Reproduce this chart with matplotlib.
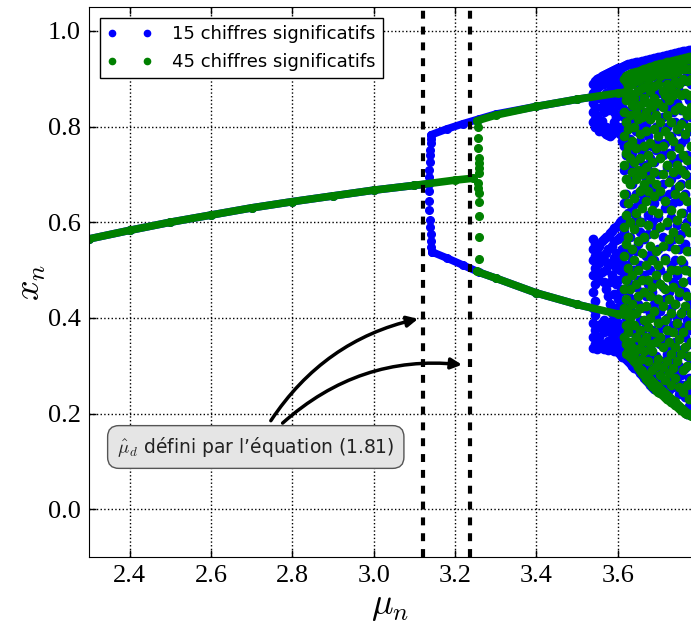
import matplotlib
matplotlib.use('Agg')
import matplotlib.pyplot as plt

# --- data ------------------------------------------------------------------
# fixed-point branch (both precisions overlap)
fixed_mu = [2.30, 2.40, 2.50, 2.60, 2.70, 2.80, 2.90, 3.00, 3.10, 3.20, 3.245]
fixed_x = [0.565, 0.583, 0.600, 0.615, 0.630, 0.643, 0.655, 0.667, 0.677, 0.688, 0.692]
blue_fixed_end = 3.137

# blue (15 digits) jump at ~3.14
blue_jump_mu = [3.136, 3.137, 3.138, 3.138, 3.139, 3.140, 3.141, 3.142,
                3.136, 3.137, 3.137, 3.138, 3.139, 3.140, 3.141, 3.142, 3.143]
blue_jump_x = [0.695, 0.71, 0.725, 0.74, 0.752, 0.765, 0.775, 0.783,
               0.665, 0.645, 0.625, 0.605, 0.59, 0.575, 0.56, 0.548, 0.538]

# blue period-2 branches
blue_up_mu = [3.142, 3.18, 3.22, 3.26, 3.30, 3.40, 3.50, 3.54]
blue_up_x = [0.783, 0.795, 0.806, 0.816, 0.826, 0.842, 0.857, 0.862]
blue_lo_mu = [3.143, 3.18, 3.22, 3.26, 3.30, 3.40, 3.50, 3.54]
blue_lo_x = [0.538, 0.525, 0.510, 0.495, 0.483, 0.452, 0.428, 0.420]

# green (45 digits) jump at ~3.255
green_jump_mu = [3.256, 3.257, 3.257, 3.258, 3.258, 3.258, 3.258, 3.257,
                 3.257, 3.258, 3.258, 3.258, 3.259, 3.259]
green_jump_x = [0.800, 0.777, 0.755, 0.734, 0.723, 0.713, 0.702, 0.681,
                0.671, 0.662, 0.643, 0.614, 0.570, 0.523]

# green period-2 branches
green_up_mu = [3.253, 3.30, 3.40, 3.50, 3.60, 3.625]
green_up_x = [0.812, 0.824, 0.842, 0.857, 0.870, 0.873]
green_lo_mu = [3.253, 3.30, 3.40, 3.50, 3.60, 3.625]
green_lo_x = [0.497, 0.483, 0.452, 0.428, 0.408, 0.404]

# dense edges of the chaotic region
green_top_mu = [3.62, 3.66, 3.70, 3.74, 3.78]
green_top_x = [0.893, 0.905, 0.918, 0.928, 0.940]
green_low_mu = [3.62, 3.66, 3.70, 3.74, 3.78]
green_low_x = [0.325, 0.290, 0.257, 0.226, 0.195]

# chaotic region, one list of x values per mu column
blue_cloud_mu = [3.540, 3.545, 3.550, 3.555, 3.560, 3.565, 3.570, 3.575, 3.580,
                 3.585, 3.590, 3.595, 3.600, 3.605, 3.610,
                 3.615, 3.620, 3.625, 3.630, 3.635, 3.640, 3.645, 3.650, 3.655,
                 3.660, 3.665, 3.670, 3.675, 3.680, 3.685, 3.690, 3.695, 3.700,
                 3.705, 3.710, 3.715, 3.720, 3.725, 3.730, 3.735, 3.740, 3.745,
                 3.750, 3.755, 3.760, 3.765, 3.770, 3.775, 3.780]
blue_cloud_x = [
    [0.89, 0.87, 0.85, 0.83, 0.81, 0.565, 0.545, 0.52, 0.49, 0.455, 0.42, 0.39, 0.36, 0.338],
    [0.895, 0.875, 0.84, 0.815, 0.80, 0.555, 0.53, 0.505, 0.47, 0.435, 0.405, 0.375, 0.345],
    [0.90, 0.88, 0.825, 0.805, 0.545, 0.52, 0.49, 0.38, 0.35, 0.335],
    [0.902, 0.885, 0.86, 0.80, 0.79, 0.55, 0.515, 0.48, 0.385, 0.36, 0.34],
    [0.905, 0.888, 0.84, 0.812, 0.792, 0.56, 0.53, 0.495, 0.39, 0.345],
    [0.908, 0.89, 0.85, 0.83, 0.788, 0.565, 0.52, 0.475, 0.395, 0.37, 0.335],
    [0.91, 0.893, 0.87, 0.845, 0.80, 0.785, 0.57, 0.535, 0.50, 0.46, 0.385, 0.34],
    [0.912, 0.897, 0.86, 0.835, 0.782, 0.572, 0.545, 0.51, 0.445, 0.39, 0.352, 0.332],
    [0.915, 0.90, 0.875, 0.845, 0.795, 0.78, 0.578, 0.515, 0.475, 0.43, 0.37, 0.335],
    [0.917, 0.885, 0.855, 0.80, 0.784, 0.582, 0.55, 0.49, 0.41, 0.385, 0.345],
    [0.918, 0.902, 0.878, 0.83, 0.81, 0.588, 0.56, 0.525, 0.45, 0.40, 0.36, 0.33],
    [0.92, 0.89, 0.865, 0.82, 0.79, 0.59, 0.535, 0.505, 0.47, 0.42, 0.375, 0.34],
    [0.922, 0.905, 0.88, 0.845, 0.80, 0.594, 0.565, 0.52, 0.48, 0.44, 0.39, 0.352, 0.328],
    [0.923, 0.895, 0.86, 0.825, 0.785, 0.60, 0.57, 0.50, 0.455, 0.41, 0.365, 0.325],
    [0.925, 0.908, 0.885, 0.84, 0.80, 0.77, 0.605, 0.545, 0.515, 0.46, 0.425, 0.38, 0.34, 0.318],
    [0.926, 0.89, 0.82, 0.76, 0.71, 0.64, 0.58, 0.49, 0.43, 0.37, 0.33],
    [0.928, 0.905, 0.86, 0.79, 0.74, 0.66, 0.55, 0.51, 0.40, 0.315],
    [0.93, 0.87, 0.80, 0.69, 0.62, 0.535, 0.455, 0.39, 0.35, 0.31],
    [0.931, 0.91, 0.835, 0.775, 0.72, 0.60, 0.57, 0.47, 0.42, 0.305],
    [0.932, 0.895, 0.85, 0.745, 0.68, 0.63, 0.52, 0.44, 0.37, 0.33, 0.30],
    [0.933, 0.915, 0.81, 0.76, 0.705, 0.59, 0.50, 0.41, 0.345, 0.295],
    [0.934, 0.9, 0.865, 0.79, 0.66, 0.61, 0.54, 0.465, 0.38, 0.32],
    [0.935, 0.918, 0.88, 0.825, 0.73, 0.64, 0.555, 0.48, 0.43, 0.36, 0.29],
    [0.936, 0.905, 0.85, 0.77, 0.70, 0.58, 0.51, 0.395, 0.335, 0.285],
    [0.937, 0.92, 0.885, 0.80, 0.745, 0.67, 0.60, 0.455, 0.37, 0.31, 0.28],
    [0.938, 0.91, 0.83, 0.72, 0.65, 0.565, 0.49, 0.42, 0.35, 0.275],
    [0.939, 0.925, 0.87, 0.805, 0.76, 0.69, 0.53, 0.445, 0.385, 0.30, 0.27],
    [0.94, 0.915, 0.895, 0.78, 0.71, 0.615, 0.575, 0.47, 0.36, 0.32, 0.265],
    [0.941, 0.927, 0.85, 0.815, 0.735, 0.66, 0.50, 0.41, 0.34, 0.29, 0.26],
    [0.942, 0.905, 0.87, 0.76, 0.68, 0.60, 0.54, 0.455, 0.375, 0.305, 0.255],
    [0.943, 0.93, 0.885, 0.83, 0.725, 0.64, 0.52, 0.43, 0.355, 0.28, 0.252],
    [0.944, 0.915, 0.80, 0.75, 0.67, 0.585, 0.48, 0.40, 0.32, 0.265],
    [0.945, 0.932, 0.895, 0.845, 0.77, 0.70, 0.61, 0.545, 0.44, 0.37, 0.30, 0.25],
    [0.946, 0.92, 0.87, 0.79, 0.655, 0.50, 0.415, 0.345, 0.285, 0.245],
    [0.947, 0.935, 0.90, 0.82, 0.74, 0.68, 0.57, 0.465, 0.385, 0.31, 0.262],
    [0.948, 0.925, 0.855, 0.765, 0.63, 0.525, 0.44, 0.355, 0.295, 0.24],
    [0.949, 0.937, 0.885, 0.80, 0.715, 0.595, 0.49, 0.40, 0.325, 0.27, 0.236],
    [0.95, 0.915, 0.84, 0.745, 0.66, 0.55, 0.455, 0.37, 0.30, 0.25],
    [0.951, 0.938, 0.90, 0.865, 0.78, 0.69, 0.61, 0.51, 0.42, 0.335, 0.28, 0.228],
    [0.952, 0.925, 0.83, 0.725, 0.64, 0.565, 0.475, 0.385, 0.31, 0.255, 0.225],
    [0.953, 0.94, 0.885, 0.81, 0.76, 0.67, 0.52, 0.43, 0.35, 0.29, 0.222],
    [0.954, 0.93, 0.905, 0.85, 0.70, 0.595, 0.49, 0.40, 0.32, 0.265, 0.218],
    [0.955, 0.942, 0.875, 0.79, 0.735, 0.645, 0.545, 0.445, 0.365, 0.30, 0.24, 0.214],
    [0.956, 0.92, 0.835, 0.765, 0.68, 0.575, 0.47, 0.38, 0.28, 0.21],
    [0.957, 0.943, 0.895, 0.81, 0.71, 0.62, 0.515, 0.415, 0.335, 0.26, 0.207],
    [0.958, 0.93, 0.865, 0.775, 0.66, 0.555, 0.455, 0.36, 0.295, 0.235, 0.204],
    [0.959, 0.945, 0.91, 0.83, 0.74, 0.60, 0.50, 0.395, 0.32, 0.25, 0.2],
    [0.96, 0.925, 0.855, 0.79, 0.695, 0.54, 0.43, 0.345, 0.275, 0.215, 0.198],
    [0.961, 0.946, 0.89, 0.82, 0.72, 0.63, 0.48, 0.375, 0.31, 0.24, 0.196],
]

green_cloud_mu = [3.615, 3.620, 3.625, 3.630, 3.635, 3.640, 3.645, 3.650, 3.655,
                  3.660, 3.665, 3.670, 3.675, 3.680, 3.685, 3.690, 3.695, 3.700,
                  3.705, 3.710, 3.715, 3.720, 3.725, 3.730, 3.735, 3.740, 3.745,
                  3.750, 3.755, 3.760, 3.765, 3.770, 3.775, 3.780]
green_cloud_x = [
    [0.90, 0.87, 0.83, 0.78, 0.72, 0.66, 0.59, 0.53, 0.46, 0.42, 0.36],
    [0.905, 0.855, 0.81, 0.745, 0.69, 0.615, 0.555, 0.48, 0.44, 0.385, 0.345],
    [0.907, 0.885, 0.795, 0.76, 0.64, 0.57, 0.505, 0.415, 0.37, 0.33],
    [0.909, 0.87, 0.825, 0.735, 0.68, 0.60, 0.46, 0.40, 0.35, 0.32],
    [0.911, 0.89, 0.845, 0.77, 0.705, 0.545, 0.49, 0.43, 0.34],
    [0.912, 0.86, 0.80, 0.725, 0.65, 0.585, 0.52, 0.385, 0.325, 0.31],
    [0.914, 0.895, 0.83, 0.755, 0.69, 0.62, 0.47, 0.41, 0.36, 0.305],
    [0.915, 0.875, 0.815, 0.71, 0.56, 0.50, 0.445, 0.335, 0.298],
    [0.917, 0.9, 0.845, 0.785, 0.735, 0.665, 0.60, 0.42, 0.375, 0.29],
    [0.918, 0.88, 0.82, 0.70, 0.63, 0.535, 0.48, 0.35, 0.315, 0.285],
    [0.92, 0.905, 0.86, 0.76, 0.68, 0.57, 0.455, 0.395, 0.33, 0.28],
    [0.921, 0.885, 0.83, 0.79, 0.715, 0.645, 0.51, 0.425, 0.36, 0.272],
    [0.922, 0.9, 0.85, 0.74, 0.665, 0.595, 0.48, 0.38, 0.31, 0.268],
    [0.924, 0.875, 0.815, 0.765, 0.69, 0.55, 0.445, 0.40, 0.345, 0.263],
    [0.925, 0.905, 0.84, 0.725, 0.625, 0.52, 0.465, 0.33, 0.29, 0.258],
    [0.926, 0.885, 0.86, 0.795, 0.705, 0.655, 0.575, 0.415, 0.37, 0.255],
    [0.928, 0.91, 0.825, 0.755, 0.68, 0.54, 0.49, 0.35, 0.30, 0.25],
    [0.929, 0.89, 0.85, 0.78, 0.62, 0.51, 0.44, 0.39, 0.315, 0.246],
    [0.93, 0.905, 0.81, 0.735, 0.665, 0.59, 0.47, 0.36, 0.28, 0.242],
    [0.931, 0.875, 0.84, 0.76, 0.70, 0.55, 0.425, 0.34, 0.298, 0.238],
    [0.932, 0.91, 0.865, 0.79, 0.645, 0.52, 0.46, 0.395, 0.27, 0.234],
    [0.934, 0.89, 0.825, 0.72, 0.60, 0.485, 0.375, 0.31, 0.231],
    [0.935, 0.91, 0.855, 0.78, 0.685, 0.565, 0.44, 0.35, 0.285, 0.228],
    [0.936, 0.88, 0.81, 0.74, 0.625, 0.50, 0.41, 0.325, 0.26, 0.225],
    [0.937, 0.915, 0.865, 0.77, 0.705, 0.58, 0.465, 0.37, 0.295, 0.222],
    [0.938, 0.895, 0.835, 0.66, 0.545, 0.43, 0.34, 0.275, 0.218],
    [0.939, 0.915, 0.87, 0.795, 0.72, 0.605, 0.50, 0.39, 0.31, 0.215],
    [0.94, 0.89, 0.84, 0.755, 0.675, 0.565, 0.455, 0.355, 0.255, 0.212],
    [0.941, 0.92, 0.865, 0.805, 0.71, 0.62, 0.52, 0.41, 0.325, 0.208],
    [0.942, 0.9, 0.835, 0.74, 0.655, 0.475, 0.37, 0.29, 0.245, 0.205],
    [0.943, 0.92, 0.87, 0.785, 0.70, 0.59, 0.50, 0.425, 0.34, 0.202],
    [0.944, 0.895, 0.825, 0.73, 0.645, 0.54, 0.445, 0.30, 0.26, 0.2],
    [0.945, 0.92, 0.865, 0.80, 0.68, 0.58, 0.385, 0.32, 0.23, 0.198],
    [0.946, 0.9, 0.84, 0.76, 0.61, 0.495, 0.41, 0.35, 0.27, 0.196],
]

mu_marks = [3.12, 3.237]
legend_labels = ['15 chiffres significatifs', '45 chiffres significatifs']
note_text = r"$\hat{\mu}_d$ défini par l’équation (1.81)"

# --- figure ----------------------------------------------------------------
plt.rcParams['mathtext.fontset'] = 'cm'
BLUE = '#0000ff'
GREEN = '#008000'
MS = 5.5
MS_CLOUD = 6

fig = plt.figure(figsize=(6.91, 6.25), dpi=100)
ax = fig.add_axes([89 / 691, 68 / 625, 602 / 691, 550 / 625])


def band(mu, x, color):
    # dense run of points drawn as a thick dotted strip
    ax.plot(mu, x, color=color, lw=MS, marker='o', ms=MS, mec=color,
            solid_capstyle='round', solid_joinstyle='round', zorder=2)


def cloud(mus, cols, color, label):
    pts_mu, pts_x = [], []
    for m, col in zip(mus, cols):
        pts_mu += [m] * len(col)
        pts_x += col
    ax.plot(pts_mu, pts_x, 'o', color=color, mec=color, ms=MS_CLOUD, label=label, zorder=2)


# 15 digits
band([m for m in fixed_mu if m < blue_fixed_end] + [blue_fixed_end],
     [x for m, x in zip(fixed_mu, fixed_x) if m < blue_fixed_end] + [0.680], BLUE)
ax.plot(blue_jump_mu, blue_jump_x, 'o', color=BLUE, mec=BLUE, ms=MS, zorder=2)
band(blue_up_mu, blue_up_x, BLUE)
band(blue_lo_mu, blue_lo_x, BLUE)
cloud(blue_cloud_mu, blue_cloud_x, BLUE, legend_labels[0])

# 45 digits
band(fixed_mu, fixed_x, GREEN)
ax.plot(green_jump_mu, green_jump_x, 'o', color=GREEN, mec=GREEN, ms=MS, zorder=2)
band(green_up_mu, green_up_x, GREEN)
band(green_lo_mu, green_lo_x, GREEN)
band(green_top_mu, green_top_x, GREEN)
band(green_low_mu, green_low_x, GREEN)
cloud(green_cloud_mu, green_cloud_x, GREEN, legend_labels[1])

for m in mu_marks:
    ax.axvline(m, color='k', lw=3, ls=(0, (1.9, 1.9)), zorder=3)

ax.set_xlim(2.3, 3.78)
ax.set_ylim(-0.1, 1.05)
ax.set_xticks([2.4, 2.6, 2.8, 3.0, 3.2, 3.4, 3.6])
ax.set_yticks([0.0, 0.2, 0.4, 0.6, 0.8, 1.0])
ax.grid(True, ls=':', color='k', lw=1)
ax.set_axisbelow(True)
ax.tick_params(direction='in', top=True, right=False, length=5, width=1, pad=6)
for lab in ax.get_xticklabels() + ax.get_yticklabels():
    lab.set_family('Liberation Serif')
    lab.set_fontsize(19)
ax.spines['right'].set_visible(False)
ax.set_xlabel(r'$\mu_n$', fontsize=26, labelpad=1)
ax.set_ylabel(r'$x_n$', fontsize=26, labelpad=0)

leg = ax.legend(loc='upper left', bbox_to_anchor=(0.018, 0.98), borderaxespad=0,
                numpoints=2, markerscale=0.75, handlelength=2.5, handletextpad=1.1,
                labelspacing=0.55, fancybox=False, framealpha=1,
                prop={'family': 'DejaVu Sans', 'size': 13})
leg.get_frame().set_edgecolor('k')
leg.get_frame().set_linewidth(1)

ax.annotate(note_text, xy=(2.71, 0.130), ha='center', va='center',
            fontsize=13.5, family='DejaVu Sans', color='#222222', zorder=5,
            bbox=dict(boxstyle='round,pad=0.5,rounding_size=0.6', fc='#e5e5e5',
                      ec='#555555', lw=1))
ax.annotate('', xy=(3.109, 0.398), xytext=(2.747, 0.185),
            arrowprops=dict(arrowstyle='-|>', color='k', lw=2.5, mutation_scale=16,
                            shrinkA=0, shrinkB=0, connectionstyle='arc3,rad=-0.2'),
            zorder=4)
ax.annotate('', xy=(3.217, 0.302), xytext=(2.776, 0.180),
            arrowprops=dict(arrowstyle='-|>', color='k', lw=2.5, mutation_scale=16,
                            shrinkA=0, shrinkB=0, connectionstyle='arc3,rad=-0.22'),
            zorder=4)

fig.savefig('out.png', dpi=100)
